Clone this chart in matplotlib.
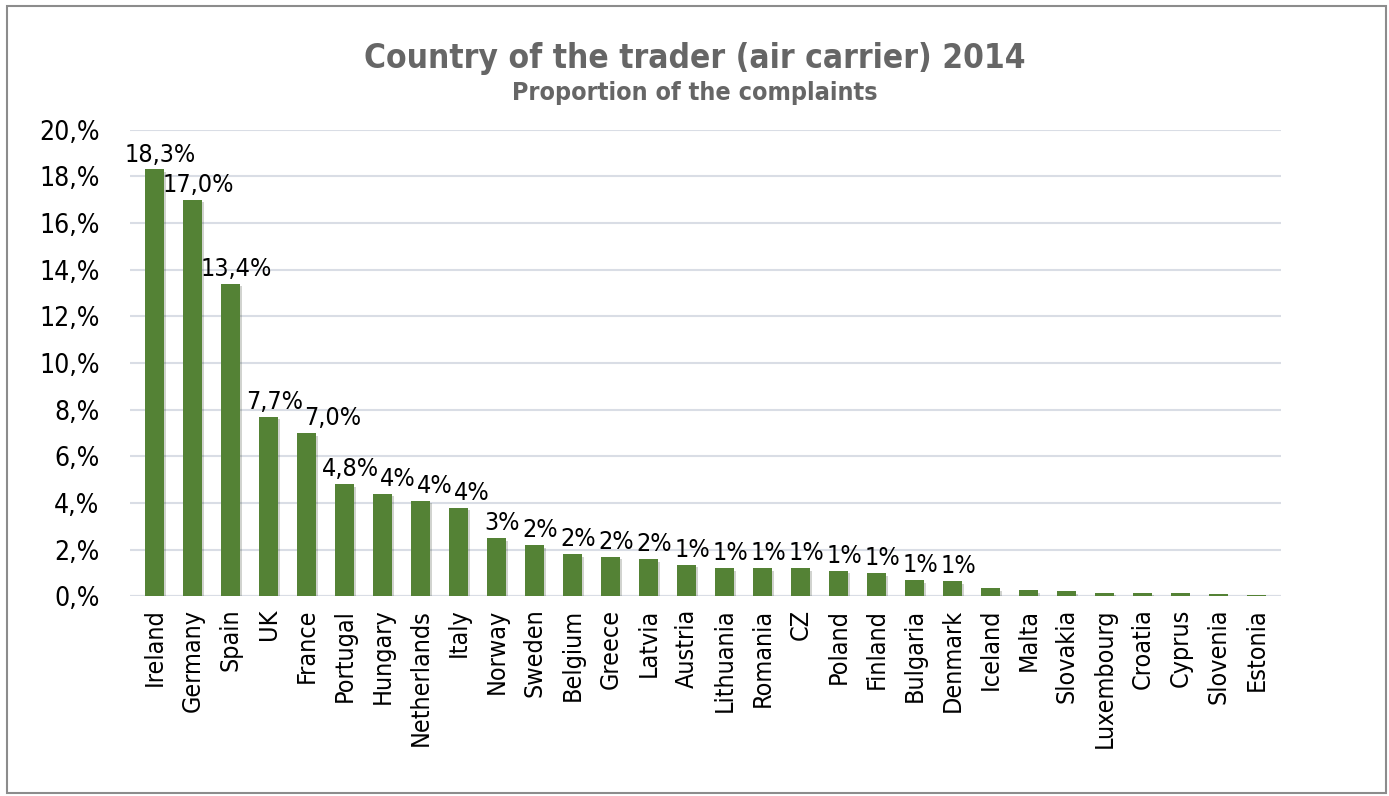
import matplotlib.pyplot as plt
import matplotlib.patheffects as pe

# Datos del gráfico
paises = ['Ireland', 'Germany', 'Spain', 'UK', 'France', 'Portugal', 'Hungary',
          'Netherlands', 'Italy', 'Norway', 'Sweden', 'Belgium', 'Greece', 'Latvia',
          'Austria', 'Lithuania', 'Romania', 'CZ', 'Poland', 'Finland', 'Bulgaria',
          'Denmark', 'Iceland', 'Malta', 'Slovakia', 'Luxembourg', 'Croatia',
          'Cyprus', 'Slovenia', 'Estonia']
valores = [18.3, 17.0, 13.4, 7.7, 7.0, 4.8, 4.4, 4.1, 3.8, 2.5, 2.2, 1.8, 1.7, 1.6,
           1.35, 1.2, 1.2, 1.2, 1.1, 1.0, 0.7, 0.65, 0.35, 0.25, 0.22, 0.15, 0.15,
           0.12, 0.1, 0.05]
etiquetas = ['18,3%', '17,0%', '13,4%', '7,7%', '7,0%', '4,8%', '4%', '4%', '4%',
             '3%', '2%', '2%', '2%', '2%', '1%', '1%', '1%', '1%', '1%', '1%', '1%',
             '1%', '', '', '', '', '', '', '', '']
ticks_y = [0, 2, 4, 6, 8, 10, 12, 14, 16, 18, 20]

fig = plt.figure(figsize=(13.89, 7.96), dpi=100)
ax = fig.add_axes([0.0936, 0.251, 0.829, 0.586])

barras = ax.bar(range(len(paises)), valores, width=0.5, color='#548235', zorder=3)
for b in barras:
    b.set_path_effects([pe.SimplePatchShadow(offset=(1, -2), alpha=0.2), pe.Normal()])

textos = []
for i, (v, t) in enumerate(zip(valores, etiquetas)):
    if t:
        textos.append(ax.text(i + 0.15, v + 0.12, t, ha='center', va='bottom', fontsize=18,
                              family='DejaVu Sans', stretch='condensed', color='black'))

ax.set_ylim(0, 20)
ax.set_xlim(-0.65, len(paises) - 0.35)
ax.set_yticks(ticks_y)
ax.set_yticklabels([f'{t},%' for t in ticks_y], fontsize=19,
                   family='DejaVu Sans', stretch='condensed')
ax.set_xticks(range(len(paises)))
ax.set_xticklabels(paises, rotation=90, fontsize=18,
                   family='DejaVu Sans', stretch='condensed')
ax.tick_params(axis='y', length=0, pad=22)
ax.tick_params(axis='x', length=0, pad=9)
ax.yaxis.grid(True, color='#d9dde5', linewidth=1.5, zorder=0)
for s in ax.spines.values():
    s.set_visible(False)
ax.axhline(0, color='#d9dde5', linewidth=1.5, zorder=1)

# Empujar a la derecha las etiquetas que chocan con la anterior (como hace Excel)
fig.canvas.draw()
r = fig.canvas.get_renderer()
for k in range(1, len(textos)):
    prev = textos[k - 1].get_window_extent(r)
    cur = textos[k].get_window_extent(r)
    if cur.overlaps(prev):
        dx = prev.x1 - cur.x0 + 1
        x, y = textos[k].get_position()
        px, py = ax.transData.transform((x, y))
        nx, _ = ax.transData.inverted().transform((px + dx, py))
        textos[k].set_position((nx, y))

fig.text(0.5, 0.927, 'Country of the trader (air carrier) 2014', ha='center', va='center',
         fontsize=24, fontweight='bold', color='#666666', family='DejaVu Sans',
         stretch='condensed')
fig.text(0.5, 0.883, 'Proportion of the complaints', ha='center', va='center',
         fontsize=18, fontweight='bold', color='#666666', family='DejaVu Sans',
         stretch='condensed')

# Marco exterior
fig.add_artist(plt.Rectangle((0.005, 0.004), 0.993, 0.988, transform=fig.transFigure,
                             fill=False, edgecolor='#8c8c8c', linewidth=1.5))

fig.savefig('out.png', dpi=100)
